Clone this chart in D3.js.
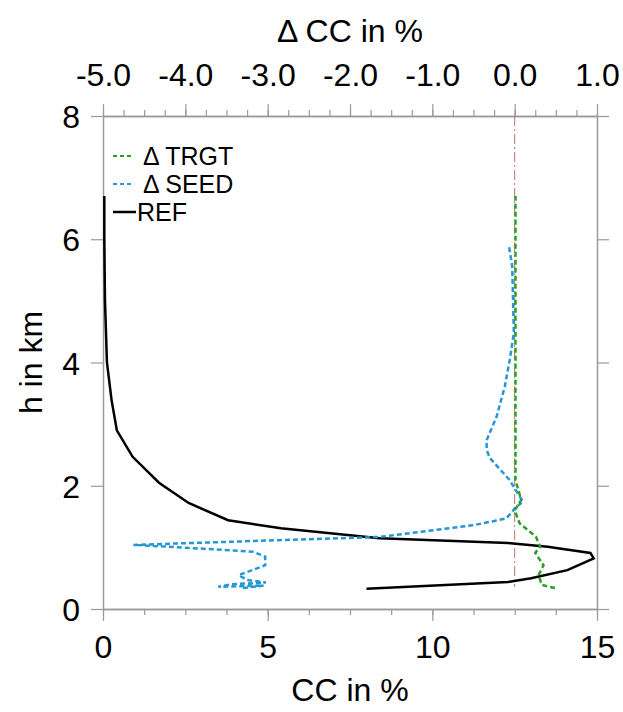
<!DOCTYPE html>
<html>
<head>
<meta charset="utf-8">
<script src="https://cdn.jsdelivr.net/npm/d3@7"></script>
<style>
  body { margin: 0; background: #fff; }
  text { font-family: "Liberation Sans", Arial, Helvetica, sans-serif; }
</style>
</head>
<body>
<div id="chart"></div>
<script>
// heights (km) and values
var refH   = [0.33, 0.44, 0.50, 0.63, 0.82, 0.91, 1.01, 1.07, 1.15, 1.31, 1.44, 1.72, 2.05, 2.47, 2.90, 3.39, 4.00, 5.00, 6.00, 6.70];
var refCC  = [8.0, 12.3, 13.0, 14.1, 14.9, 14.8, 13.5, 12.3, 8.4, 5.4, 3.8, 2.6, 1.7, 0.9, 0.42, 0.26, 0.12, 0.06, 0.04, 0.04];

var trgtH  = [0.34, 0.39, 0.55, 0.71, 0.91, 1.01, 1.17, 1.39, 1.60, 1.77, 2.09, 3.39, 5.00, 6.70];
var trgtD  = [0.49, 0.33, 0.29, 0.35, 0.25, 0.31, 0.26, 0.06, 0.00, 0.08, 0.01, 0.01, 0.01, 0.01];

var seedH  = [0.34, 0.38, 0.36, 0.40, 0.43, 0.47, 0.55, 0.71, 0.85, 0.93, 1.01, 1.04, 1.17, 1.36, 1.47, 1.66, 1.74, 2.09, 2.45, 2.58, 2.74, 3.12, 3.61, 4.04, 4.48, 5.56, 5.90];
var seedD  = [-3.30, -3.05, -3.60, -3.45, -3.02, -3.25, -3.35, -3.03, -3.03, -3.18, -4.19, -4.63, -1.64, -0.50, -0.10, 0.02, 0.10, -0.06, -0.30, -0.34, -0.34, -0.22, -0.12, -0.06, -0.01, -0.03, -0.07];

var bottomTicks = [0, 5, 10, 15];
var topTicks = [-5, -4, -3, -2, -1, 0, 1];
var leftTicks = [0, 2, 4, 6, 8];

var margin = { top: 116, right: 26, bottom: 103, left: 103 },
  width = 623 - margin.left - margin.right,
  height = 712 - margin.top - margin.bottom;

var svg = d3.select("#chart")
  .append("svg")
  .attr("width", 623)
  .attr("height", 712)
  .append("g")
  .attr("transform", "translate(" + margin.left + "," + margin.top + ")");

var x = d3.scaleLinear().domain([0, 15]).range([0, width]);
var xTop = d3.scaleLinear().domain([-5, 1]).range([0, width]);
var y = d3.scaleLinear().domain([0, 8]).range([height, 0]);

var axisColor = "#9a9a9a";
var fontSize = "32px";

function styleAxis(g) {
  g.attr("font-size", null).attr("font-family", null);
  g.select(".domain").attr("stroke", axisColor).attr("stroke-width", 1.5);
  g.selectAll(".tick line").attr("stroke", axisColor).attr("stroke-width", 1.2);
  g.selectAll("text").attr("fill", "#000").style("font-size", fontSize);
}

// minor ticks
svg.append("g")
  .attr("transform", "translate(0," + height + ")")
  .call(d3.axisBottom(x).tickValues(d3.range(0, 15.01, 1.25)).tickSize(6).tickFormat("").tickSizeOuter(0))
  .call(styleAxis);
svg.append("g")
  .call(d3.axisTop(xTop).tickValues(d3.range(-5, 1.01, 0.25)).tickSize(6).tickFormat("").tickSizeOuter(0))
  .call(styleAxis);

// X axis (bottom)
svg.append("g")
  .attr("transform", "translate(0," + height + ")")
  .call(d3.axisBottom(x).tickValues(bottomTicks).tickSize(12).tickPadding(14).tickSizeOuter(0))
  .call(styleAxis);

// X axis (top, delta)
svg.append("g")
  .call(d3.axisTop(xTop).tickValues(topTicks).tickSize(12).tickPadding(18).tickSizeOuter(0))
  .call(styleAxis)
  .selectAll("text").text(function (d) { return d3.format(".1f")(d).replace("\u2212", "-"); });

// Y axis
svg.append("g")
  .call(d3.axisLeft(y).tickValues(leftTicks).tickSize(12).tickPadding(11).tickSizeOuter(0))
  .call(styleAxis)
  .selectAll("text").attr("dy", "0.36em");
svg.append("g")
  .attr("transform", "translate(" + width + ",0)")
  .call(d3.axisRight(y).tickValues(leftTicks).tickSize(12).tickFormat("").tickSizeOuter(0))
  .call(styleAxis);

// axis titles
svg.append("text")
  .attr("x", width / 2).attr("y", height + 92)
  .attr("text-anchor", "middle").style("font-size", fontSize)
  .text("CC in %");
svg.append("text")
  .attr("x", width / 2).attr("y", -74)
  .attr("text-anchor", "middle").style("font-size", fontSize)
  .text("\u0394 CC in %");
svg.append("text")
  .attr("transform", "translate(-61," + (height / 2) + ")rotate(-90)")
  .attr("text-anchor", "middle").style("font-size", fontSize)
  .text("h in km");

// zero line for delta
svg.append("line")
  .attr("x1", xTop(0)).attr("x2", xTop(0))
  .attr("y1", y(8)).attr("y2", y(0.36))
  .attr("stroke", "#c0706a").attr("stroke-width", 1)
  .attr("stroke-dasharray", "10,3,2,3");

var refLine = d3.line()
  .x(function (d, i) { return x(refCC[i]); })
  .y(function (d, i) { return y(refH[i]); });
var trgtLine = d3.line()
  .x(function (d, i) { return xTop(trgtD[i]); })
  .y(function (d, i) { return y(trgtH[i]); });
var seedLine = d3.line()
  .x(function (d, i) { return xTop(seedD[i]); })
  .y(function (d, i) { return y(seedH[i]); });

svg.append("path").datum(refH).attr("d", refLine)
  .attr("fill", "none").attr("stroke", "#000").attr("stroke-width", 2.5);
svg.append("path").datum(seedH).attr("d", seedLine)
  .attr("fill", "none").attr("stroke", "#2596d6").attr("stroke-width", 2.5)
  .attr("stroke-dasharray", "5,3");
svg.append("path").datum(trgtH).attr("d", trgtLine)
  .attr("fill", "none").attr("stroke", "#2aa02a").attr("stroke-width", 2.5)
  .attr("stroke-dasharray", "5,3");

// legend
var legend = [
  { name: "\u0394 TRGT", color: "#2aa02a", dash: "4,3" },
  { name: "\u0394 SEED", color: "#2596d6", dash: "4,3" },
  { name: "REF", color: "#000", dash: null }
];
var lg = svg.selectAll(".leg").data(legend).enter().append("g")
  .attr("transform", function (d, i) { return "translate(10," + (40 + i * 28) + ")"; });
lg.append("line")
  .attr("x1", 0).attr("x2", function (d) { return d.dash ? 21 : 23; }).attr("y1", 0).attr("y2", 0)
  .attr("stroke", function (d) { return d.color; })
  .attr("stroke-width", function (d) { return d.dash ? 2 : 2.5; })
  .attr("stroke-dasharray", function (d) { return d.dash; });
lg.append("text")
  .attr("x", function (d) { return d.dash ? 30 : 24; }).attr("y", 0).attr("dy", "0.36em")
  .style("font-size", "25px")
  .text(function (d) { return d.name; });
</script>
</body>
</html>
